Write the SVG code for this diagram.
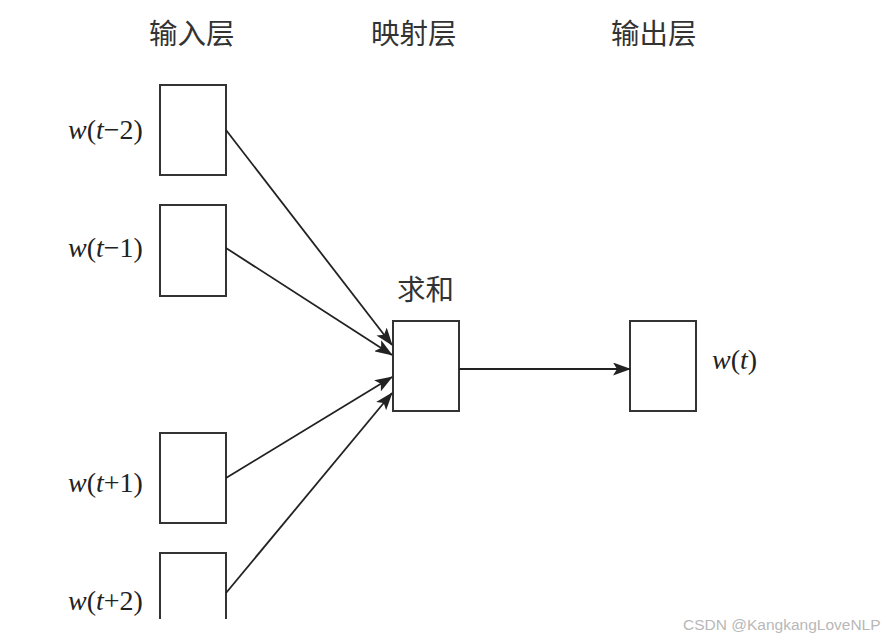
<svg xmlns="http://www.w3.org/2000/svg" width="887" height="639" viewBox="0 0 887 639">
<style>
.box{fill:#fff;stroke:#333;stroke-width:2}
.hdr{font-family:"Noto Sans CJK SC","Noto Sans",sans-serif;font-size:28.5px;fill:#333}
.lbl{font-family:"Liberation Serif","Times New Roman",serif;font-size:28px;fill:#222}
.it{font-style:italic}
.edge{stroke:#222;stroke-width:1.8;fill:none;marker-end:url(#ah)}
.wm{font-family:"Liberation Sans",Arial,sans-serif;font-size:15.5px;fill:#b8b8b8}
</style>
<defs>
<marker id="ah" viewBox="0 0 18 13" refX="17" refY="6.5" markerWidth="18" markerHeight="13" markerUnits="userSpaceOnUse" orient="auto">
<path d="M0,0 L18,6.5 L0,13 L4,6.5 z" fill="#222"/>
</marker>
</defs>
<rect width="887" height="639" fill="#fff"/>
<g id="headers">
<text class="hdr" x="149" y="44">输入层</text>
<text class="hdr" x="371" y="44">映射层</text>
<text class="hdr" x="611" y="44">输出层</text>
</g>
<g id="in1"><rect class="box" x="160" y="85" width="66" height="90"/><text class="lbl" x="68" y="139"><tspan class="it">w</tspan>(<tspan class="it">t</tspan>−2)</text></g>
<g id="in2"><rect class="box" x="160" y="205" width="66" height="91"/><text class="lbl" x="68" y="257"><tspan class="it">w</tspan>(<tspan class="it">t</tspan>−1)</text></g>
<g id="in3"><rect class="box" x="160" y="433" width="66" height="90"/><text class="lbl" x="68" y="492"><tspan class="it">w</tspan>(<tspan class="it">t</tspan>+1)</text></g>
<g id="in4"><path class="box" d="M160,619 V553 H226 V619"/><text class="lbl" x="68" y="610"><tspan class="it">w</tspan>(<tspan class="it">t</tspan>+2)</text></g>
<g id="sum"><rect class="box" x="393" y="321" width="66" height="90"/><text class="hdr" x="397" y="300">求和</text></g>
<g id="out"><rect class="box" x="630" y="321" width="66" height="90"/><text class="lbl" x="712" y="369"><tspan class="it">w</tspan>(<tspan class="it">t</tspan>)</text></g>
<g id="connectors">
<line class="edge" x1="226" y1="130" x2="392" y2="345"/>
<line class="edge" x1="226" y1="248" x2="392" y2="355"/>
<line class="edge" x1="226" y1="478" x2="392" y2="377"/>
<line class="edge" x1="226" y1="593" x2="392" y2="393"/>
<line class="edge" x1="459" y1="369" x2="630" y2="369"/>
</g>
<text class="wm" x="683" y="630">CSDN @KangkangLoveNLP</text>
</svg>
